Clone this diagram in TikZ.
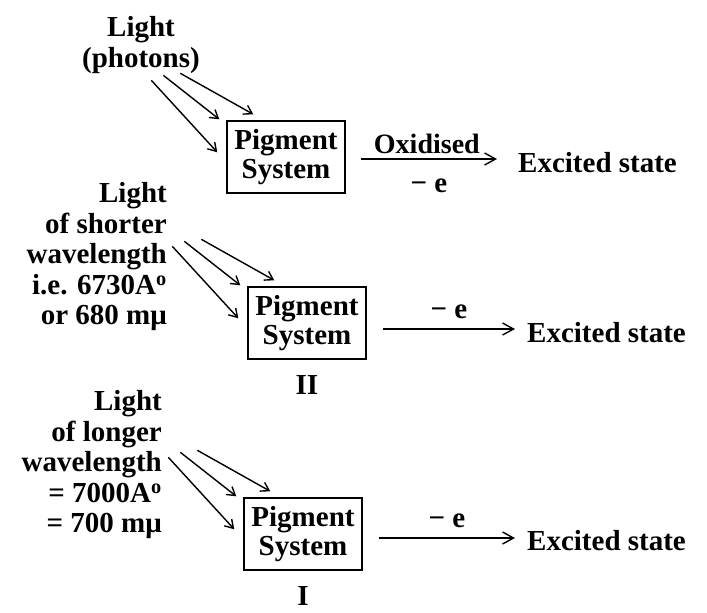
\documentclass[tikz,border=0pt]{standalone}
\usepackage{fontspec}
\setmainfont{Liberation Serif}
\usetikzlibrary{arrows.meta,positioning}

\tikzset{
  pigbox/.style={draw,line width=1.4pt,minimum width=118pt,minimum height=72pt,
    inner sep=0pt,align=center,font=\bfseries\fontsize{29}{29}\selectfont},
  lightnote/.style={inner sep=0pt,font=\bfseries\fontsize{29}{30.5}\selectfont},
  ray/.style={line width=1.4pt,-{Straight Barb[length=8pt,width=10pt]}},
  flow/.style={line width=1.4pt,-{Straight Barb[length=11pt,width=12pt]}}
}

\begin{document}
\begin{tikzpicture}[x=1pt,y=-1pt]
  \useasboundingbox (0,0) rectangle (707,613);

  % pigment systems
  \node[pigbox] (ps1) at (286,157) {Pigment\\System};
  \node[pigbox] (ps2) at (307,323) {Pigment\\System};
  \node[pigbox] (ps3) at (303,534) {Pigment\\System};
  \node[lightnote,below=16pt of ps2] (num2) {II};
  \node[lightnote,below=16pt of ps3] (num1) {I};

  % light falling on them
  \node[lightnote,align=center] (lt1) at (141,45) {Light\\(photons)};
  \node[lightnote,align=right,anchor=east] (lt2) at (167,257)
    {Light\\of shorter\\wavelength\\i.e. 6730A\textsuperscript{o}\\or 680 mμ};
  \node[lightnote,align=right,anchor=east] (lt3) at (162,465)
    {Light\\of longer\\wavelength\\= 7000A\textsuperscript{o}\\= 700 mμ};

  % excited states
  \node[lightnote,anchor=west] (ex1) at (518,163) {Excited state};
  \node[lightnote,anchor=west] (ex2) at (527,333) {Excited state};
  \node[lightnote,anchor=west] (ex3) at (527,541) {Excited state};
  \coordinate (e1) at (497,159);
  \coordinate (e2) at (515,329);
  \coordinate (e3) at (515,538);

  \foreach \b in {ps1,ps2,ps3} {
    \draw[ray] ([shift={(-75,-40)}]\b.north west) -- ([shift={(-9,32)}]\b.north west);
    \draw[ray] ([shift={(-63,-45)}]\b.north west) -- ([shift={(-7,-1)}]\b.north west);
    \draw[ray] ([shift={(-46,-47)}]\b.north west) -- ([shift={(27,-6)}]\b.north west);
  }

  \draw[flow] (ps1.east |- e1) ++(15,0) -- (e1)
    node[lightnote,midway,above=5pt,xshift=-2pt,font=\bfseries\fontsize{28}{28}\selectfont] {Oxidised}
    node[lightnote,midway,below=19pt] {− e};
  \draw[flow] (ps2.east |- e2) ++(16,0) -- (e2)
    node[lightnote,midway,above=10pt] {− e};
  \draw[flow] (ps3.east |- e3) ++(16,0) -- (e3)
    node[lightnote,midway,above=10pt] {− e};
\end{tikzpicture}
\end{document}
